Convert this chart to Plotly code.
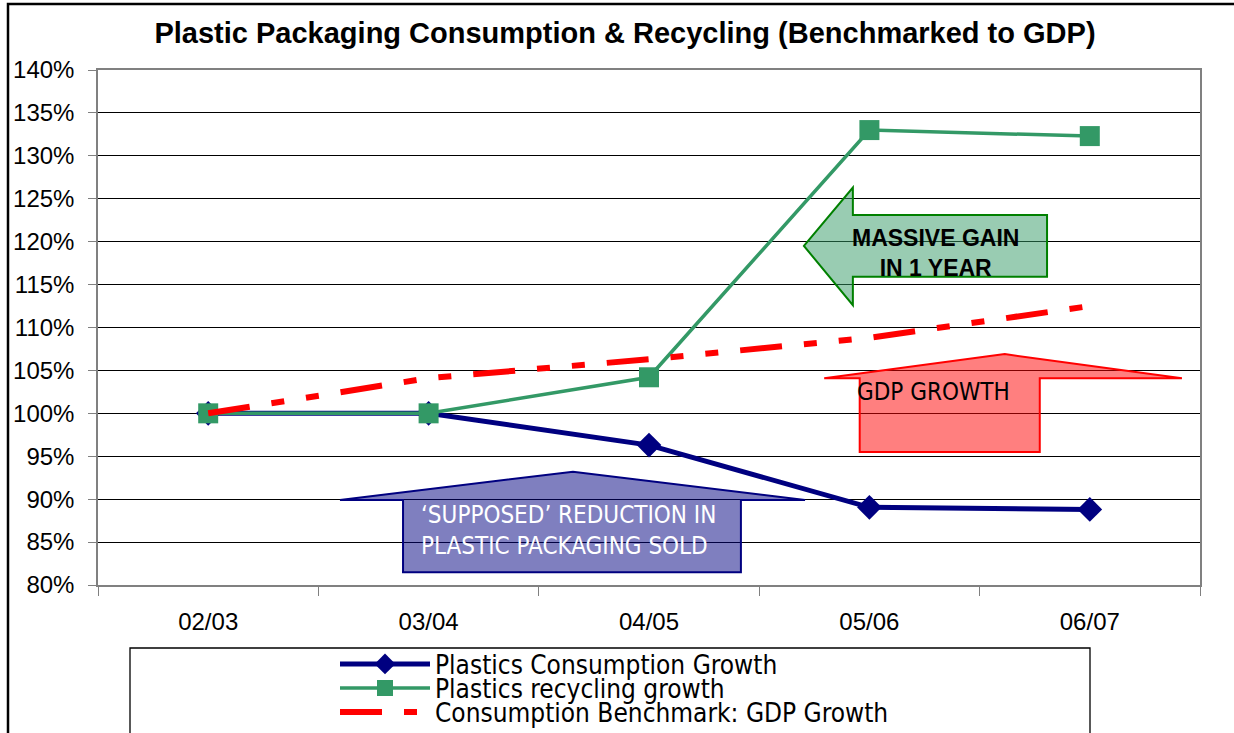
import plotly.graph_objects as go

# Financial years on the category axis
years = ["02/03", "03/04", "04/05", "05/06", "06/07"]

# Growth indices (% of the 02/03 level)
consumption_growth = [100.0, 100.0, 96.3, 89.05, 88.8]
recycling_growth = [100.0, 100.0, 104.2, 133.0, 132.3]
gdp_growth = [100.0, 104.1, 106.3, 108.8, 112.5]

y_ticks = list(range(80, 141, 5))
y_tick_labels = [f"{v}%" for v in y_ticks]

W, H = 1234, 733
L, R, T, B = 98, 1200, 70, 585
Y_MIN, Y_MAX = 80, 140
N = len(years)

COND = "DejaVu Sans Condensed, Liberation Sans Narrow, Arial Narrow, sans-serif"
ARIAL = "Liberation Sans, Arial, sans-serif"


def xp(c):
    """Category index -> paper x."""
    return (c + 0.5) / N


def yp(v):
    """Percent value -> paper y."""
    return (v - Y_MIN) / (Y_MAX - Y_MIN)


def pix_x(px):
    return (px - L) / (R - L)


def pix_y(py):
    return (B - py) / (B - T)


def poly(points):
    return "M " + " L ".join(f"{x:.5f},{y:.5f}" for x, y in points) + " Z"


fig = go.Figure()

fig.add_trace(go.Scatter(
    x=years, y=consumption_growth, name="Plastics Consumption Growth",
    mode="lines+markers", legend="legend",
    line=dict(color="#000080", width=5),
    marker=dict(symbol="diamond", size=19, color="#000080"),
))
fig.add_trace(go.Scatter(
    x=years, y=recycling_growth, name="Plastics recycling growth",
    mode="lines+markers", legend="legend2",
    line=dict(color="#339966", width=3.5),
    marker=dict(symbol="square", size=20, color="#339966"),
))
fig.add_trace(go.Scatter(
    x=years, y=gdp_growth, name="Consumption Benchmark: GDP Growth",
    mode="lines", legend="legend3",
    line=dict(color="#FF0000", width=6, dash="42px,22px,13px,22px,13px,22px"),
))

shapes = []

# outer chart frame
shapes.append(dict(type="rect", xref="paper", yref="paper",
                   x0=pix_x(8), x1=pix_x(1260), y0=pix_y(760), y1=pix_y(4),
                   line=dict(color="#000000", width=2.5), layer="below"))

# legend frame
shapes.append(dict(type="rect", xref="paper", yref="paper",
                   x0=pix_x(130), x1=pix_x(1090), y0=pix_y(760), y1=pix_y(648),
                   line=dict(color="#000000", width=1.3), layer="below"))

# up arrow: 'supposed' reduction (blue)
blue_arrow = [
    (0.598, 89.9), (1.655, 93.2), (2.708, 89.9),
    (2.417, 89.9), (2.417, 81.5), (0.884, 81.5), (0.884, 89.9),
]
shapes.append(dict(type="path", xref="paper", yref="paper",
                   path=poly([(xp(x), yp(y)) for x, y in blue_arrow]),
                   fillcolor="rgba(0,0,128,0.5)",
                   line=dict(color="#000080", width=2), layer="above"))

# up arrow: GDP growth (red)
red_arrow = [
    (2.795, 104.1), (3.614, 106.9), (4.418, 104.1),
    (3.773, 104.1), (3.773, 95.5), (2.956, 95.5), (2.956, 104.1),
]
shapes.append(dict(type="path", xref="paper", yref="paper",
                   path=poly([(xp(x), yp(y)) for x, y in red_arrow]),
                   fillcolor="rgba(255,0,0,0.5)",
                   line=dict(color="#FF0000", width=2), layer="above"))

# left arrow: massive gain (green)
green_arrow = [
    (2.703, 119.5), (2.925, 126.3), (2.925, 123.1), (3.806, 123.1),
    (3.806, 115.9), (2.925, 115.9), (2.925, 112.6),
]
shapes.append(dict(type="path", xref="paper", yref="paper",
                   path=poly([(xp(x), yp(y)) for x, y in green_arrow]),
                   fillcolor="rgba(51,153,102,0.5)",
                   line=dict(color="#008000", width=2), layer="above"))

annotations = [
    dict(text="‘SUPPOSED’ REDUCTION IN<br>PLASTIC PACKAGING SOLD",
         xref="paper", yref="paper", x=xp(1.637), y=yp(86.4),
         xanchor="center", yanchor="middle",
         showarrow=False, align="left",
         font=dict(family=COND, size=24, color="#FFFFFF")),
    dict(text="GDP GROWTH",
         xref="paper", yref="paper", x=xp(3.293), y=yp(102.5),
         xanchor="center", yanchor="middle",
         showarrow=False,
         font=dict(family=COND, size=24, color="#000000")),
    dict(text="<b>MASSIVE GAIN<br>IN 1 YEAR</b>",
         xref="paper", yref="paper", x=xp(3.302), y=yp(118.7),
         xanchor="center", yanchor="middle",
         showarrow=False,
         font=dict(family=ARIAL, size=23, color="#000000")),
]


def row_legend(py):
    return dict(x=pix_x(335), y=pix_y(py), xanchor="left", yanchor="middle",
                bgcolor="rgba(0,0,0,0)", borderwidth=0, itemwidth=90,
                font=dict(family=COND, size=26, color="#000000"))


fig.update_layout(
    width=W, height=H,
    margin=dict(l=L, r=W - R, t=T, b=H - B, pad=0, autoexpand=False),
    paper_bgcolor="#FFFFFF", plot_bgcolor="#FFFFFF",
    title=dict(text="<b>Plastic Packaging Consumption & Recycling (Benchmarked to GDP)</b>",
               x=625 / W, xanchor="center", y=1 - 33 / H, yanchor="middle",
               xref="container", yref="container",
               font=dict(family=ARIAL, size=29, color="#000000")),
    showlegend=True,
    legend=row_legend(664),
    legend2=row_legend(688),
    legend3=row_legend(712),
    shapes=shapes,
    annotations=annotations,
    hovermode=False,
)

fig.update_xaxes(
    type="category", categoryorder="array", categoryarray=years,
    range=[-0.5, N - 0.5], autorange=False,
    tickson="boundaries", ticks="outside", ticklen=9, tickcolor="#808080",
    showline=True, linecolor="#808080", linewidth=1.5, mirror=True,
    showgrid=False, zeroline=False,
    tickfont=dict(family=ARIAL, size=24, color="#000000"),
    ticklabelstandoff=14,
)
fig.update_yaxes(
    range=[Y_MIN, Y_MAX], autorange=False,
    tickvals=y_ticks, ticktext=y_tick_labels,
    ticks="outside", ticklen=8, tickcolor="#808080",
    showline=True, linecolor="#808080", linewidth=1.5, mirror=True,
    showgrid=True, gridcolor="#000000", gridwidth=1, zeroline=False,
    tickfont=dict(family=ARIAL, size=24, color="#000000"),
    ticklabelstandoff=9,
)

fig.write_html("out.html")
